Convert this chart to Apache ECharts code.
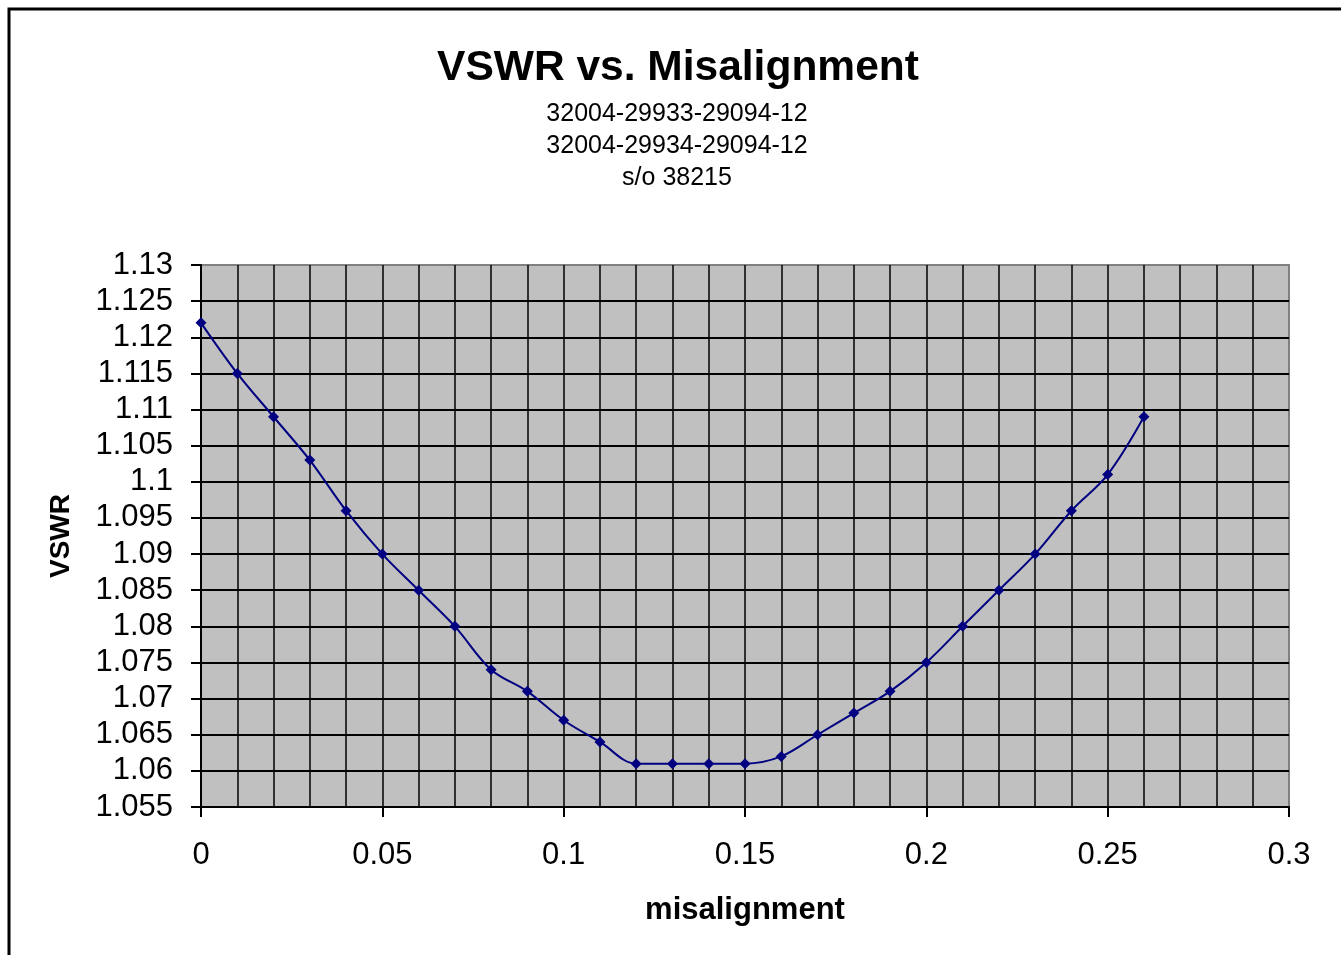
<!DOCTYPE html>
<html>
<head>
<meta charset="utf-8">
<title>VSWR vs. Misalignment</title>
<script src="https://cdn.jsdelivr.net/npm/echarts@6/dist/echarts.min.js"></script>
<style>
	html, body { margin: 0; padding: 0; background: #fff; overflow: hidden; }
	#chart { width: 1341px; height: 955px; }
</style>
</head>
<body>
<div id="chart"></div>
<script>
	// misalignment (x) and measured VSWR (y)
	var misalignment = [0, 0.01, 0.02, 0.03, 0.04, 0.05, 0.06, 0.07, 0.08, 0.09, 0.10, 0.11, 0.12, 0.13,
		0.14, 0.15, 0.16, 0.17, 0.18, 0.19, 0.20, 0.21, 0.22, 0.23, 0.24, 0.25, 0.26];
	var vswr = [1.122, 1.115, 1.109, 1.103, 1.096, 1.090, 1.085, 1.080, 1.074, 1.071, 1.067, 1.064, 1.061, 1.061,
		1.061, 1.061, 1.062, 1.065, 1.068, 1.071, 1.075, 1.080, 1.085, 1.090, 1.096, 1.101, 1.109];
	var subtitleLines = ['32004-29933-29094-12', '32004-29934-29094-12', 's/o 38215'];

	var font = "'Liberation Sans', Arial, sans-serif";
	var points = misalignment.map(function (x, i) { return [x, vswr[i]]; });
	function fmt(v) { return parseFloat(v.toFixed(3)).toString(); }

	var chart = echarts.init(document.getElementById('chart'), null, { renderer: 'canvas' });
	chart.setOption({
		backgroundColor: '#ffffff',
		animation: false,
		graphic: [{
			type: 'rect',
			shape: { x: 9, y: 9, width: 1500, height: 1200 },
			style: { fill: 'none', stroke: '#000', lineWidth: 3 },
			silent: true
		}],
		title: [{
			text: 'VSWR vs. Misalignment',
			left: 673,
			top: 42,
			textAlign: 'center',
			textStyle: { fontFamily: font, fontSize: 42.5, fontWeight: 'bold', color: '#000' }
		}, {
			text: subtitleLines.join('\n'),
			left: 672,
			top: 93,
			textAlign: 'center',
			textStyle: { fontFamily: font, fontSize: 25, fontWeight: 'normal', color: '#000', lineHeight: 32 }
		}],
		grid: {
			left: 201, top: 265, width: 1088, height: 542,
			show: true,
			backgroundColor: '#c0c0c0',
			borderColor: '#808080',
			borderWidth: 2
		},
		xAxis: {
			type: 'value',
			min: 0, max: 0.3, interval: 0.05,
			name: 'misalignment',
			nameLocation: 'middle',
			nameGap: 88,
			nameTextStyle: { fontFamily: font, fontSize: 31, fontWeight: 'bold', color: '#000' },
			axisLine: { lineStyle: { color: '#000', width: 2 } },
			axisTick: { show: true, length: 10, lineStyle: { color: '#000', width: 2 } },
			axisLabel: { fontFamily: font, fontSize: 31, color: '#000', margin: 33, formatter: fmt },
			splitLine: { show: true, showMinLine: false, showMaxLine: false, lineStyle: { color: '#000', width: 1.5 } },
			minorTick: { show: false, splitNumber: 5 },
			minorSplitLine: { show: true, lineStyle: { color: '#000', width: 1.5 } }
		},
		yAxis: {
			type: 'value',
			min: 1.055, max: 1.13, interval: 0.005,
			name: 'VSWR',
			nameLocation: 'middle',
			nameRotate: 90,
			nameGap: 126,
			nameTextStyle: { fontFamily: font, fontSize: 28, fontWeight: 'bold', color: '#000' },
			axisLine: { show: true, lineStyle: { color: '#000', width: 2 } },
			axisTick: { show: true, length: 10, lineStyle: { color: '#000', width: 2 } },
			axisLabel: { fontFamily: font, fontSize: 31, color: '#000', margin: 28, formatter: fmt },
			splitLine: { show: true, showMinLine: false, showMaxLine: false, lineStyle: { color: '#000', width: 2 } }
		},
		series: [{
			type: 'line',
			data: points,
			smooth: 0.35,
			symbol: 'diamond',
			symbolSize: 11,
			itemStyle: { color: '#000080' },
			lineStyle: { color: '#000080', width: 2 }
		}]
	});
</script>
</body>
</html>
